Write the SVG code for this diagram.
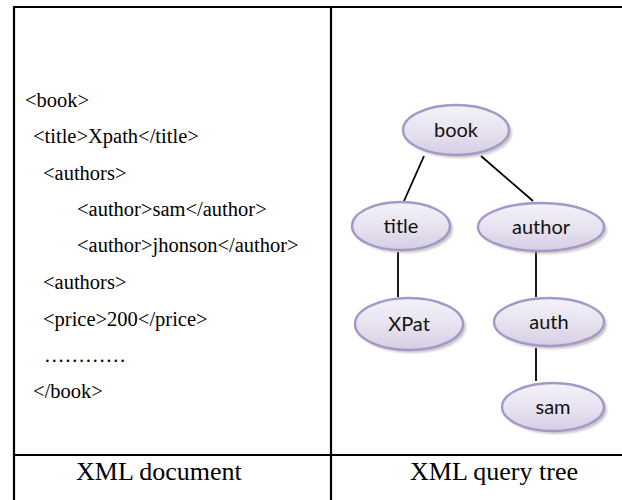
<svg xmlns="http://www.w3.org/2000/svg" width="622" height="500" viewBox="0 0 622 500">
<style>
.code{font-family:"Liberation Serif","Times New Roman",serif;font-size:20.5px;fill:#000}
.cap{font-family:"Liberation Serif","Times New Roman",serif;font-size:26px;fill:#000}
.grid{stroke:#000;stroke-width:2.2;fill:none}
.edge{stroke:#000;stroke-width:1.8;fill:none}
.node{fill:url(#g);stroke:#a698c6;stroke-width:2.4}
.shadow{fill:#9a9a9a;opacity:0.55}
.lbl{font-family:Lato,"Open Sans","Liberation Sans",sans-serif;font-size:20px;fill:#111;text-anchor:middle}
</style>
<defs>
<linearGradient id="g" x1="0" y1="0" x2="0" y2="1">
<stop offset="0" stop-color="#f4f2f8"/>
<stop offset="0.5" stop-color="#e8e3f0"/>
<stop offset="1" stop-color="#d6cde4"/>
</linearGradient>
<filter id="blur" x="-20%" y="-20%" width="140%" height="140%"><feGaussianBlur stdDeviation="1.2"/></filter>
</defs>
<g id="table">
<line class="grid" x1="13" y1="7" x2="622" y2="7"/>
<line class="grid" x1="14" y1="6" x2="14" y2="500"/>
<line class="grid" x1="331" y1="6" x2="331" y2="500"/>
<line class="grid" x1="14" y1="455" x2="622" y2="455"/>
</g>
<g id="xml-text">
<text class="code" x="25" y="107">&lt;book&gt;</text>
<text class="code" x="33" y="143">&lt;title&gt;Xpath&lt;/title&gt;</text>
<text class="code" x="43" y="180">&lt;authors&gt;</text>
<text class="code" x="77" y="216">&lt;author&gt;sam&lt;/author&gt;</text>
<text class="code" x="77" y="252">&lt;author&gt;jhonson&lt;/author&gt;</text>
<text class="code" x="43" y="289">&lt;authors&gt;</text>
<text class="code" x="43" y="326">&lt;price&gt;200&lt;/price&gt;</text>
<text class="code" x="44" y="362">…………</text>
<text class="code" x="33" y="398">&lt;/book&gt;</text>
</g>
<g id="captions">
<text class="cap" x="76" y="480">XML document</text>
<text class="cap" x="410" y="480">XML query tree</text>
</g>
<g id="connectors">
<line class="edge" x1="424" y1="156" x2="404" y2="201"/>
<line class="edge" x1="481" y1="156" x2="533" y2="201"/>
<line class="edge" x1="398" y1="252" x2="398" y2="297"/>
<line class="edge" x1="536" y1="252" x2="536" y2="297"/>
<line class="edge" x1="536" y1="348" x2="536" y2="381"/>
</g>
<g id="node-book">
<ellipse class="shadow" filter="url(#blur)" cx="459" cy="133" rx="53" ry="25"/>
<ellipse class="node" cx="456" cy="130" rx="53" ry="25"/>
<text class="lbl" x="456" y="137">book</text>
</g>
<g id="node-title">
<ellipse class="shadow" filter="url(#blur)" cx="404" cy="229" rx="49" ry="24"/>
<ellipse class="node" cx="401" cy="226" rx="49" ry="24"/>
<text class="lbl" x="401" y="233">title</text>
</g>
<g id="node-author">
<ellipse class="shadow" filter="url(#blur)" cx="544" cy="230" rx="63" ry="24"/>
<ellipse class="node" cx="541" cy="227" rx="63" ry="24"/>
<text class="lbl" x="541" y="234">author</text>
</g>
<g id="node-xpat">
<ellipse class="shadow" filter="url(#blur)" cx="412" cy="327" rx="54" ry="26"/>
<ellipse class="node" cx="409" cy="324" rx="54" ry="26"/>
<text class="lbl" x="409" y="331">XPat</text>
</g>
<g id="node-auth">
<ellipse class="shadow" filter="url(#blur)" cx="552" cy="325" rx="55" ry="24"/>
<ellipse class="node" cx="549" cy="322" rx="55" ry="24"/>
<text class="lbl" x="549" y="329">auth</text>
</g>
<g id="node-sam">
<ellipse class="shadow" filter="url(#blur)" cx="556" cy="410" rx="51" ry="24"/>
<ellipse class="node" cx="553" cy="407" rx="51" ry="24"/>
<text class="lbl" x="553" y="414">sam</text>
</g>
</svg>
